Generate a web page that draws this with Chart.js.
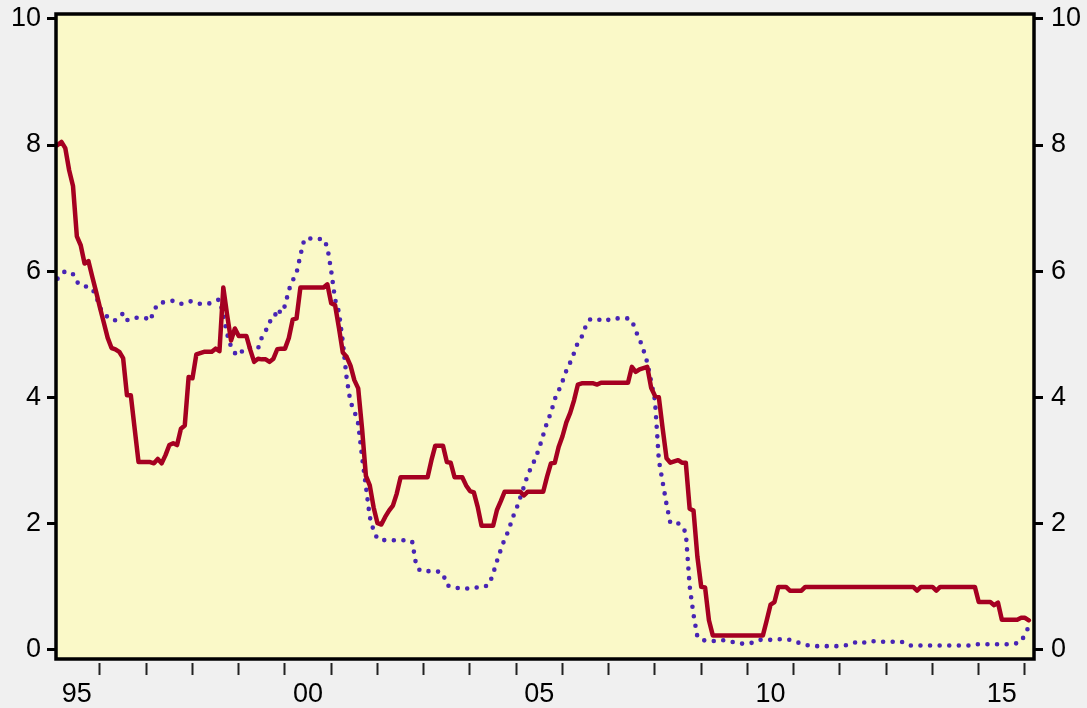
<!DOCTYPE html>
<html>
<head>
<meta charset="utf-8">
<title>Policy rates</title>
<script src="https://cdn.jsdelivr.net/npm/chart.js"></script>
<style>
    html, body { margin: 0; padding: 0; background: #f0f0f0; }
    #wrap { width: 1087px; height: 708px; }
</style>
</head>
<body>
<div id="wrap"><canvas id="rateChart" width="1087" height="708"></canvas></div>
<script>
// monthly series, first value = Feb 1995
const startYear = 1995;
const startMonth = 1;

// solid red line
const redRate = [
    8.00, 8.05, 7.95, 7.6, 7.35, 6.55, 6.41, 6.12, 6.16, 5.91, 5.67,
    5.42, 5.18, 4.94, 4.78, 4.76, 4.72, 4.62, 4.03, 4.03, 3.5, 2.97, 2.97,
    2.97, 2.97, 2.95, 3.02, 2.95, 3.08, 3.24, 3.27, 3.24, 3.5, 3.55, 4.32,
    4.3, 4.68, 4.7, 4.72, 4.72, 4.72, 4.77, 4.73, 5.74, 5.3, 4.9, 5.09,
    4.97, 4.97, 4.97, 4.75, 4.56, 4.61, 4.6, 4.6, 4.56, 4.61, 4.76, 4.77,
    4.77, 4.94, 5.23, 5.25, 5.74, 5.74, 5.74, 5.74, 5.74, 5.74, 5.74, 5.79,
    5.49, 5.46, 5.1, 4.71, 4.64, 4.5, 4.27, 4.14, 3.5, 2.75, 2.6, 2.25,
    2.0, 1.98, 2.1, 2.2, 2.28, 2.47, 2.73, 2.73, 2.73, 2.73, 2.73, 2.73,
    2.73, 2.73, 3.0, 3.23, 3.23, 3.23, 2.97, 2.96, 2.73, 2.73, 2.73, 2.6,
    2.51, 2.49, 2.26, 1.96, 1.96, 1.96, 1.96, 2.21, 2.35, 2.5, 2.5, 2.5,
    2.5, 2.5, 2.44, 2.5, 2.5, 2.5, 2.5, 2.5, 2.74, 2.95, 2.96, 3.21,
    3.38, 3.6, 3.75, 3.95, 4.2, 4.22, 4.22, 4.22, 4.22, 4.2, 4.23, 4.23,
    4.23, 4.23, 4.23, 4.23, 4.23, 4.23, 4.48, 4.4, 4.44, 4.46, 4.48, 4.15,
    4.02, 4.0, 3.5, 3.03, 2.96, 2.98, 3.0, 2.96, 2.96, 2.23, 2.2, 1.47,
    0.99, 0.98, 0.46, 0.22, 0.22, 0.22, 0.22, 0.22, 0.22, 0.22, 0.22, 0.22,
    0.22, 0.22, 0.22, 0.22, 0.22, 0.46, 0.71, 0.75, 0.99, 0.99, 0.99, 0.93,
    0.93, 0.93, 0.93, 0.99, 0.99, 0.99, 0.99, 0.99, 0.99, 0.99, 0.99, 0.99,
    0.99, 0.99, 0.99, 0.99, 0.99, 0.99, 0.99, 0.99, 0.99, 0.99, 0.99, 0.99,
    0.99, 0.99, 0.99, 0.99, 0.99, 0.99, 0.99, 0.99, 0.93, 0.99, 0.99, 0.99,
    0.99, 0.93, 0.99, 0.99, 0.99, 0.99, 0.99, 0.99, 0.99, 0.99, 0.99, 0.99,
    0.75, 0.75, 0.75, 0.75, 0.7, 0.74, 0.47, 0.47, 0.47, 0.47, 0.47, 0.5,
    0.5, 0.46
];

// dotted blue line
const blueRate = [
    5.88, 5.95, 6.0, 5.98, 5.95, 5.83, 5.77, 5.76, 5.75, 5.72, 5.6,
    5.42, 5.33, 5.27, 5.22, 5.22, 5.27, 5.33, 5.22, 5.25, 5.26, 5.26, 5.26,
    5.25, 5.21, 5.37, 5.48, 5.5, 5.51, 5.52, 5.53, 5.51, 5.48, 5.5, 5.52,
    5.52, 5.5, 5.48, 5.48, 5.48, 5.5, 5.53, 5.55, 5.3, 5.0, 4.8, 4.7,
    4.66, 4.74, 4.79, 4.78, 4.77, 4.77, 4.95, 5.05, 5.2, 5.22, 5.4, 5.33,
    5.45, 5.7, 5.85, 5.97, 6.25, 6.5, 6.53, 6.51, 6.51, 6.51, 6.51, 6.38,
    6.0, 5.55, 5.35, 4.88, 4.3, 3.92, 3.78, 3.58, 3.05, 2.58, 2.1, 1.88,
    1.75, 1.74, 1.73, 1.73, 1.73, 1.73, 1.73, 1.73, 1.73, 1.71, 1.35, 1.25,
    1.24, 1.24, 1.24, 1.24, 1.23, 1.2, 1.02, 0.99, 0.98, 0.97, 0.96, 0.96,
    0.98, 0.98, 0.98, 0.98, 1.0, 1.03, 1.2, 1.4, 1.58, 1.75, 1.88, 2.08,
    2.22, 2.4, 2.58, 2.77, 2.9, 3.03, 3.2, 3.4, 3.6, 3.75, 3.97, 4.1,
    4.25, 4.42, 4.55, 4.7, 4.87, 4.96, 5.12, 5.23, 5.25, 5.24, 5.22, 5.2,
    5.23, 5.25, 5.25, 5.25, 5.25, 5.25, 5.22, 5.05, 4.92, 4.75, 4.55, 4.25,
    3.95, 3.0, 2.65, 2.3, 2.0, 2.0, 2.0, 1.95, 1.85, 1.0, 0.55, 0.2,
    0.15, 0.14, 0.13, 0.13, 0.14, 0.15, 0.14, 0.13, 0.12, 0.1, 0.09, 0.09,
    0.09, 0.1, 0.13, 0.15, 0.15, 0.15, 0.15, 0.16, 0.16, 0.16, 0.16, 0.15,
    0.13, 0.11, 0.09, 0.07, 0.06, 0.05, 0.05, 0.05, 0.05, 0.05, 0.05, 0.05,
    0.05, 0.06, 0.07, 0.09, 0.11, 0.13, 0.11, 0.1, 0.12, 0.13, 0.12, 0.12,
    0.12, 0.12, 0.12, 0.13, 0.12, 0.08, 0.06, 0.06, 0.06, 0.06, 0.06, 0.06,
    0.06, 0.06, 0.06, 0.06, 0.06, 0.06, 0.06, 0.06, 0.06, 0.06, 0.06, 0.08,
    0.08, 0.08, 0.08, 0.08, 0.08, 0.08, 0.08, 0.08, 0.08, 0.08, 0.1, 0.12,
    0.24, 0.36
];

const yTicks = [0, 2, 4, 6, 8, 10];
const yearTicks = [1996, 1997, 1998, 1999, 2000, 2001, 2002, 2003, 2004, 2005, 2006,
    2007, 2008, 2009, 2010, 2011, 2012, 2013, 2014, 2015, 2016];
const labelYears = [1995, 2000, 2005, 2010, 2015];
const yearLabels = ['95', '00', '05', '10', '15'];

const toPoints = arr => arr.map((v, i) => ({ x: startYear + (startMonth + i) / 12, y: v }));

Chart.defaults.font.family = "'Liberation Sans', Arial, sans-serif";
Chart.defaults.color = '#000';

// yellow plot area + black frame
const framePlugin = {
    id: 'frame',
    beforeDraw(chart) {
        const a = chart.chartArea, ctx = chart.ctx;
        ctx.save();
        ctx.fillStyle = '#faf9c8';
        ctx.fillRect(a.left, a.top, a.right - a.left, a.bottom - a.top);
        ctx.restore();
    },
    afterDatasetsDraw(chart) {
        const a = chart.chartArea, ctx = chart.ctx;
        ctx.save();
        ctx.strokeStyle = '#000';
        ctx.lineWidth = 3.5;
        ctx.strokeRect(a.left, a.top, a.right - a.left, a.bottom - a.top);
        ctx.restore();
    }
};

const yMin = -0.154, yMax = 10.079;

function yAxis(position, width, pad) {
    return {
        type: 'linear',
        position: position,
        min: yMin,
        max: yMax,
        afterBuildTicks: s => { s.ticks = yTicks.map(v => ({ value: v })); },
        afterFit: s => {
            s.width = width;
            s.paddingTop = 0;
            s.paddingBottom = 0;
        },
        ticks: { font: { size: 27 }, padding: pad, color: '#000' },
        grid: { drawOnChartArea: false, drawTicks: true, tickLength: 9, tickWidth: 3, tickColor: '#000' },
        border: { display: false }
    };
}

new Chart(document.getElementById('rateChart'), {
    type: 'line',
    data: {
        datasets: [
            {
                label: 'red',
                data: toPoints(redRate),
                borderColor: '#a50021',
                borderWidth: 4.5,
                borderJoinStyle: 'round',
                borderCapStyle: 'round',
                pointRadius: 0,
                tension: 0,
                order: 0
            },
            {
                label: 'blue',
                data: toPoints(blueRate),
                borderColor: '#4824b4',
                borderWidth: 4.6,
                borderDash: [0, 9.6],
                borderCapStyle: 'round',
                pointRadius: 0,
                tension: 0,
                order: 1
            }
        ]
    },
    options: {
        responsive: false,
        animation: false,
        devicePixelRatio: 1,
        layout: { padding: { top: 14, left: 0, right: 0, bottom: 0 } },
        plugins: { legend: { display: false }, tooltip: { enabled: false } },
        scales: {
            x: {
                type: 'linear',
                position: 'bottom',
                min: 1995.049,
                max: 2016.195,
                afterBuildTicks: s => {
                    s.ticks = yearTicks.concat(labelYears.map(y => y + 0.5)).sort((a, b) => a - b).map(v => ({ value: v }));
                },
                afterFit: s => {
                    s.height = 49;
                    s.paddingLeft = 0;
                    s.paddingRight = 0;
                },
                ticks: {
                    autoSkip: false,
                    maxRotation: 0,
                    font: { size: 27 },
                    padding: 3,
                    color: '#000',
                    callback: v => {
                        const i = labelYears.indexOf(v - 0.5);
                        return i >= 0 ? yearLabels[i] : '';
                    }
                },
                grid: {
                    drawOnChartArea: false,
                    drawTicks: true,
                    tickLength: 16,
                    tickWidth: 2,
                    tickBorderDash: [0, 4, 12, 40],
                    tickColor: c => (c.tick && Number.isInteger(c.tick.value)) ? '#222' : 'rgba(0,0,0,0)'
                },
                border: { display: false }
            },
            y: yAxis('left', 56, 6),
            y2: yAxis('right', 53, 8)
        }
    },
    plugins: [framePlugin]
});
</script>
</body>
</html>
